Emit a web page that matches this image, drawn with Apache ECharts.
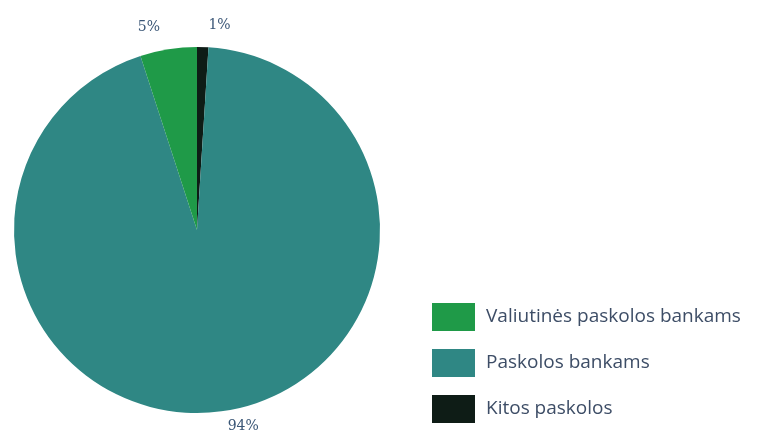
<!DOCTYPE html>
<html lang="lt">
<head>
<meta charset="UTF-8" />
<title>Paskolos</title>
<script src="https://cdn.jsdelivr.net/npm/echarts@6/dist/echarts.min.js"></script>
<style>
  html, body { margin: 0; padding: 0; background: #fff; }
</style>
</head>
<body>
<div id="main" style="width: 758px; height: 434px"></div>
<script type="text/javascript">
// data, in drawing order (clockwise from 12 o'clock)
const names = ["Kitos paskolos", "Paskolos bankams", "Valiutinės paskolos bankams"];
const values = [1, 94, 5];
const colors = ["#0e1c16", "#2f8784", "#1f9a48"];
// legend order as printed
const legendOrder = ["Valiutinės paskolos bankams", "Paskolos bankams", "Kitos paskolos"];

const myChart = echarts.init(document.getElementById("main"));

const options = {
  animation: false,
  color: colors,
  legend: {
    data: legendOrder,
    orient: "vertical",
    left: 427,
    top: 298,
    itemWidth: 43,
    itemHeight: 28,
    itemGap: 18,
    icon: "rect",
    textStyle: {
      fontFamily: "Open Sans",
      fontSize: 19,
      color: "#3d4d66",
      padding: [6, 0, 0, 6]
    }
  },
  series: [
    {
      type: "pie",
      center: [197, 230],
      radius: 183,
      startAngle: 90,
      clockwise: true,
      data: names.map((n, i) => ({ name: n, value: values[i] })),
      label: {
        show: true,
        position: "outside",
        formatter: "{d}%",
        fontFamily: "DejaVu Serif",
        fontSize: 14,
        color: "#3a5676"
      },
      labelLine: { show: false, length: 22, length2: 0 },
      itemStyle: { borderWidth: 0 },
      emphasis: { disabled: true }
    }
  ]
};

myChart.setOption(options);
</script>
</body>
</html>
